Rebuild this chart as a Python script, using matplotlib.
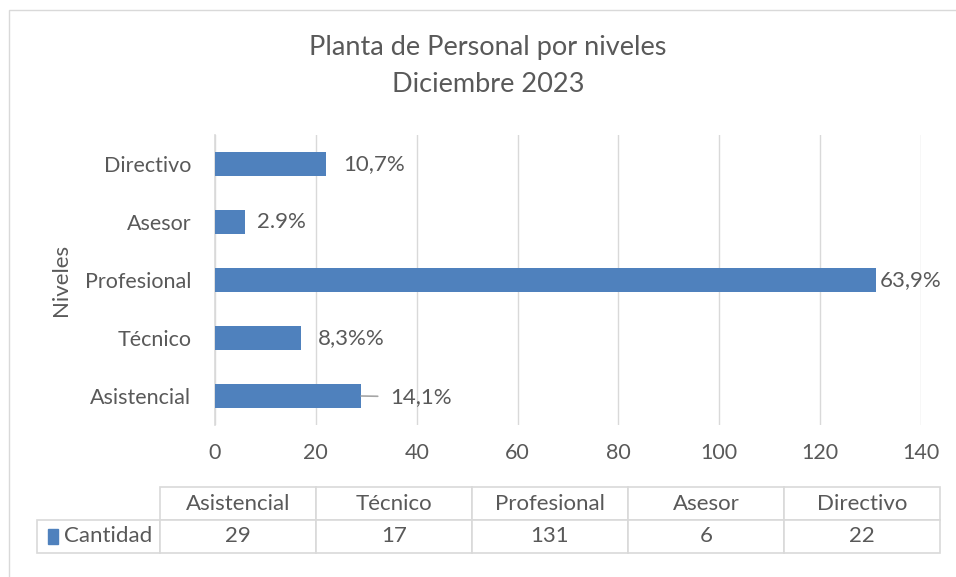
import matplotlib.pyplot as plt
from matplotlib.patches import Rectangle

# datos
niveles = ['Asistencial', 'Técnico', 'Profesional', 'Asesor', 'Directivo']
cantidad = [29, 17, 131, 6, 22]
etiquetas = ['14,1%', '8,3%%', '63,9%', '2.9%', '10,7%']
xticks = [0, 20, 40, 60, 80, 100, 120, 140]

azul = '#4F81BD'
gris_txt = '#595959'
gris_lin = '#D9D9D9'

plt.rcParams['font.family'] = ['Lato', 'DejaVu Sans']

fig = plt.figure(figsize=(9.56, 5.77), dpi=100)

# borde del grafico (como en Excel)
fig.add_artist(Rectangle((9 / 956, -0.1), 2, 0.1 + 1 - 10 / 577,
                         transform=fig.transFigure, fill=False,
                         edgecolor=gris_lin, linewidth=1))

ax = fig.add_axes([215 / 956, 1 - 425 / 577, 706 / 956, 290 / 577])
ypos = list(range(len(niveles)))
ax.barh(ypos, cantidad, height=0.41, color=azul, zorder=3)

ax.set_xlim(0, 140)
ax.set_ylim(-0.5, len(niveles) - 0.5)
ax.set_xticks(xticks)
ax.set_yticks(ypos)
ax.set_yticklabels(niveles)
ax.tick_params(axis='both', length=0, labelsize=15.5, colors=gris_txt)
ax.tick_params(axis='x', pad=13)
ax.tick_params(axis='y', pad=17)
ax.grid(axis='x', color=gris_lin, linewidth=1, zorder=0)
for s in ['top', 'right', 'bottom']:
    ax.spines[s].set_visible(False)
ax.spines['left'].set_color(gris_lin)
ax.spines['left'].set_linewidth(1.2)
ax.set_ylabel('Niveles', fontsize=16, color=gris_txt)
ax.yaxis.set_label_coords(-0.204, 0.5)

# etiquetas de datos (posicionadas a mano como en el original)
offsets = [29, 17, 4, 12, 17]
for y, v, t, dx in zip(ypos, cantidad, etiquetas, offsets):
    if dx > 20:
        ax.annotate(t, xy=(v, y), xytext=(dx, -1), textcoords='offset pixels',
                    ha='left', va='center', fontsize=16, color=gris_txt,
                    arrowprops=dict(arrowstyle='-', color='#A6A6A6', lw=1.2,
                                    shrinkA=7, shrinkB=0))
    else:
        ax.annotate(t, xy=(v, y), xytext=(dx, 0), textcoords='offset pixels',
                    ha='left', va='center', fontsize=16, color=gris_txt)

fig.text(488 / 956, 1 - 48 / 577, 'Planta de Personal por niveles',
         ha='center', va='center', fontsize=19.5, color=gris_txt)
fig.text(488 / 956, 1 - 84 / 577, 'Diciembre 2023',
         ha='center', va='center', fontsize=19.5, color=gris_txt)

# tabla de datos
axt = fig.add_axes([37 / 956, 1 - 553 / 577, 903 / 956, 66 / 577])
axt.axis('off')
anchos = [123 / 903] + [156 / 903] * len(niveles)
tabla = axt.table(cellText=[['Cantidad'] + [str(c) for c in cantidad]],
                  colLabels=[''] + niveles, colWidths=anchos,
                  cellLoc='center', bbox=[0, 0, 1, 1])
tabla.auto_set_font_size(False)
for (r, c), cell in tabla.get_celld().items():
    cell.set_edgecolor(gris_lin)
    cell.set_linewidth(1.2)
    cell.get_text().set_fontsize(16)
    cell.get_text().set_color(gris_txt)
tabla[0, 0].visible_edges = ''
tabla[1, 0].get_text().set_ha('right')
tabla[1, 0].PAD = 0.06
axt.add_patch(Rectangle((11 / 903, 0.14), 10 / 903, 0.22,
                        transform=axt.transAxes, color=azul, clip_on=False))

fig.savefig('out.png', dpi=100)
